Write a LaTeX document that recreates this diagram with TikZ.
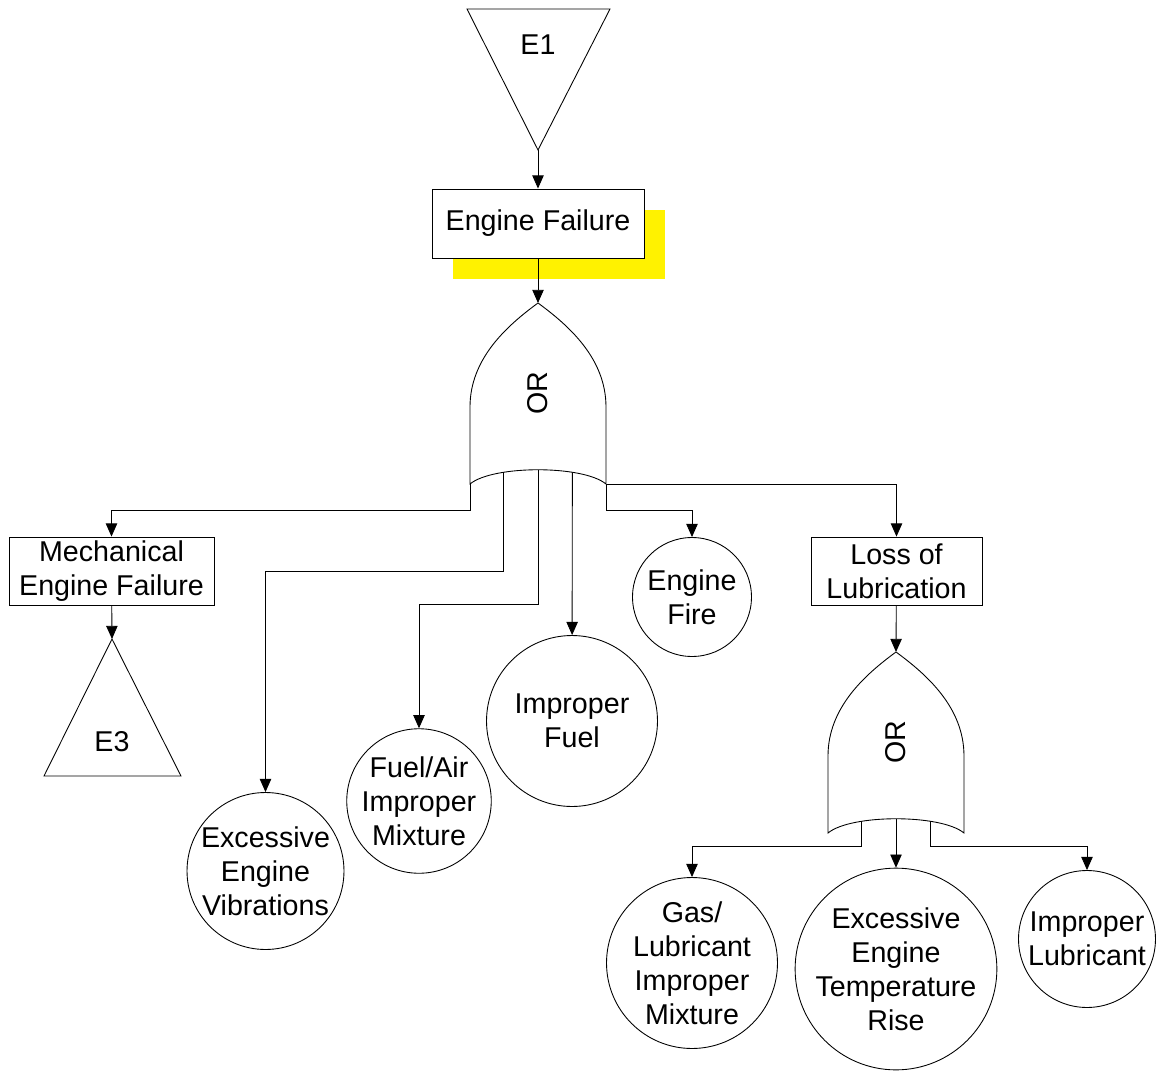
\documentclass[tikz,border=0pt]{standalone}
\usepackage{fontspec}
\setmainfont{Liberation Sans}
\usepackage{tikz}
\usetikzlibrary{arrows.meta}
\colorlet{hilite}{yellow}

\tikzset{
    orgate/.pic={
        \draw (0,0) .. controls (30,22) and (68,55) .. (68,104) -- (68,181)
            .. controls (45,162) and (-45,162) .. (-68,181)
            coordinate[pos=0.29] (-c) coordinate[pos=0.5] (-b) coordinate[pos=0.71] (-a)
            -- (-68,104) .. controls (-68,55) and (-30,22) .. (0,0);
        \coordinate (-tip) at (0,0);
        \coordinate (-l) at (-68,181);
        \coordinate (-r) at (68,181);
        \node[rotate=90] (-lbl) at (0,90) {OR};
    }
}

\begin{document}
\begin{tikzpicture}[
            x=0.02cm, y=-0.02cm,
            line width=0.5pt,
            every node/.style={font=\fontsize{16.3}{19.3}\selectfont},
            evbox/.style={draw, fill=white, rectangle, inner sep=0pt, align=center},
            basic/.style={draw, circle, inner sep=0pt, align=center},
            arr/.style={-{Triangle[length=7.5pt,width=6.5pt]}}
        ]
            \useasboundingbox (0,0) rectangle (1164,1072);

            \draw (467,9) -- (610,9) -- (538,150) -- cycle;
            \node (e1) at (538,45) {E1};
            \coordinate (e1tip) at (538,150);

            \fill [hilite] (453,210) rectangle (665,279);
            \node [evbox, minimum width=4.24cm, minimum height=1.38cm] (ef) at (538,223.5) {Engine Failure};

            \pic (g1) at (538,303) {orgate};

            \node [evbox, minimum width=4.10cm, minimum height=1.36cm] (mef) at (111.5,571) {Mechanical\\Engine Failure};
            \draw (44,776) -- (181,776) -- (112,639) -- cycle;
            \node (e3) at (112,742) {E3};
            \coordinate (e3tip) at (112,639);

            \node [basic, minimum size=3.14cm] (vib) at (265.5,871) {Excessive\\Engine\\Vibrations};
            \node [basic, minimum size=2.80cm] (fam) at (419,801) {Fuel/Air\\Improper\\Mixture};
            \node [basic, minimum size=3.42cm] (ifuel) at (572,721) {Improper\\Fuel};
            \node [basic, minimum size=2.38cm] (fire) at (692,597) {Engine\\Fire};
            \node [evbox, minimum width=3.42cm, minimum height=1.36cm] (lol) at (896.5,571) {Loss of\\Lubrication};

            \pic (g2) at (896,652) {orgate};

            \node [basic, minimum size=3.42cm] (gas) at (692,963) {Gas/\\Lubricant\\Improper\\Mixture};
            \node [basic, minimum size=3.96cm] (temp) at (896,969) {Excessive\\Engine\\Temperature\\Rise};
            \node [basic, minimum size=2.74cm] (ilub) at (1087,939) {Improper\\Lubricant};

            \draw [arr] (e1tip) -- (ef);
            \draw [arr] (ef) -- (g1-tip);
            \draw [arr] (g1-l) -- ++(0,26) -| (mef);
            \draw [arr] (mef) -- (e3tip);
            \draw [arr] (g1-a) -- ++(0,99) -| (vib);
            \draw [arr] (g1-b) -- ++(0,135) -| (fam);
            \draw [arr] (g1-c) -- (ifuel);
            \draw [arr] (g1-r) -- ++(0,26) -| (fire);
            \draw [arr] (g1-r) -| (lol);
            \draw [arr] (lol) -- (g2-tip);
            \draw [arr] (g2-a) -- ++(0,25) -| (gas);
            \draw [arr] (g2-b) -- (temp);
            \draw [arr] (g2-c) -- ++(0,25) -| (ilub);
        \end{tikzpicture}
\end{document}
